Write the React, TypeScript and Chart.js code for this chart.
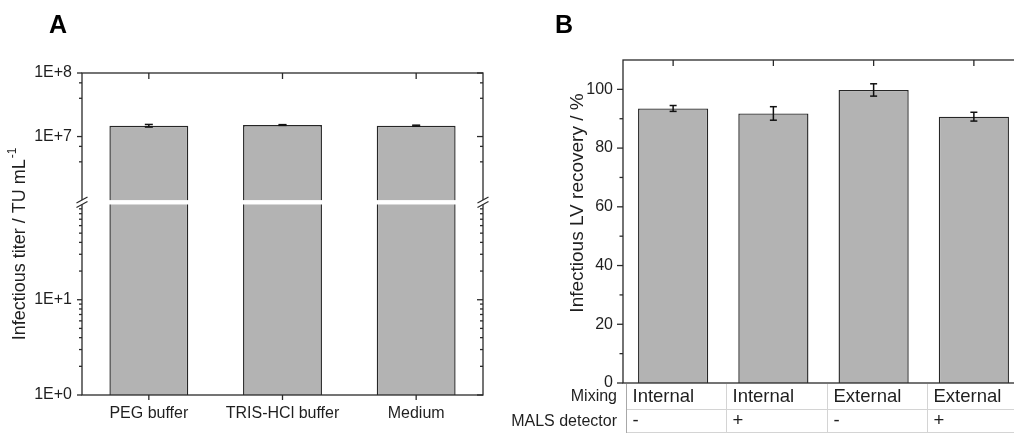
import React, { useEffect, useRef } from 'react';
import { Chart, registerables } from 'chart.js';

Chart.register(...registerables);

const FONT = "'Liberation Sans', Arial, Helvetica, sans-serif";
const INK = '#1f1f1f';
const FRAME = '#2a2a2a';
const BAR_FILL = '#b3b3b3';
const BAR_EDGE = '#262626';
const GRID_LIGHT = '#d4d4d4';

// ---------- Panel A : infectious titer (broken log axis) ----------
const titerCategories = ['PEG buffer', 'TRIS-HCl buffer', 'Medium'];
const titerValues = [1.48e7, 1.52e7, 1.48e7];
const titerErrors = [0.07e7, 0.02e7, 0.03e7];
const titerUpperRange = [10 ** 5.97, 1e8];
const titerLowerRange = [1, 10 ** 2.026];
const titerBreak = [1e6, 1e2];
const titerUpperMajor = [1e7, 1e8];
const titerUpperMinor = [4e6, 7e6, 4e7, 7e7];
const titerLowerMajor = [1, 10];
const titerLowerMinor = [2, 3, 4, 5, 6, 7, 8, 9, 20, 30, 40, 50, 60, 70, 80, 90];
const titerTickValues = [1e8, 1e7, 10, 1];
const titerTickLabels = ['1E+8', '1E+7', '1E+1', '1E+0'];

// ---------- Panel B : infectious LV recovery ----------
const recoveryCategories = ['Internal / -', 'Internal / +', 'External / -', 'External / +'];
const mixingRow = ['Internal', 'Internal', 'External', 'External'];
const malsRow = ['-', '+', '-', '+'];
const recoveryValues = [93.5, 91.8, 99.8, 90.7];
const recoveryErrors = [1.0, 2.3, 2.1, 1.5];
const recoveryRange = [0, 110];
const recoveryMajor = [0, 20, 40, 60, 80, 100];
const recoveryMinor = [10, 30, 50, 70, 90];

function seg(ctx: CanvasRenderingContext2D, x1: number, y1: number, x2: number, y2: number) {
  ctx.beginPath();
  ctx.moveTo(x1, y1);
  ctx.lineTo(x2, y2);
  ctx.stroke();
}

function errorBars(ctx: CanvasRenderingContext2D, xs: any, ys: any, vals: number[], errs: number[], cap: number) {
  ctx.save();
  ctx.strokeStyle = '#111';
  ctx.lineWidth = 1.5;
  vals.forEach((v, i) => {
    const px = xs.getPixelForValue(i);
    const top = ys.getPixelForValue(v + errs[i]);
    const bot = ys.getPixelForValue(v - errs[i]);
    seg(ctx, px, top, px, bot);
    seg(ctx, px - cap, top, px + cap, top);
    seg(ctx, px - cap, bot, px + cap, bot);
  });
  ctx.restore();
}

const titerDecor = {
  id: 'titerDecor',
  afterDraw(chart: any) {
    const { ctx, chartArea: a, scales } = chart;
    const xs = scales.x, yu = scales.yUpper, yl = scales.yLower;
    errorBars(ctx, xs, yu, titerValues, titerErrors, 4);
    ctx.save();
    ctx.strokeStyle = FRAME;
    ctx.lineWidth = 1.3;
    ctx.strokeRect(a.left, a.top, a.right - a.left, a.bottom - a.top);
    const yTick = (scale: any, vals: number[], outLen: number, inLen: number) => {
      vals.forEach((v) => {
        const py = scale.getPixelForValue(v);
        seg(ctx, a.left, py, a.left - outLen, py);
        seg(ctx, a.right, py, a.right - inLen, py);
      });
    };
    yTick(yu, titerUpperMajor, 5, 6);
    yTick(yu, titerUpperMinor, 3, 3);
    yTick(yl, titerLowerMajor, 5, 6);
    yTick(yl, titerLowerMinor, 3, 3);
    titerCategories.forEach((_, i) => {
      const px = xs.getPixelForValue(i);
      seg(ctx, px, a.top, px, a.top + 6);
      seg(ctx, px, a.bottom, px, a.bottom + 5);
    });
    // axis break
    const gTop = yu.getPixelForValue(titerBreak[0]);
    const gBot = yl.getPixelForValue(titerBreak[1]);
    ctx.fillStyle = '#fff';
    ctx.fillRect(a.left - 4, gTop, a.right - a.left + 8, gBot - gTop);
    ctx.lineWidth = 1.2;
    [a.left, a.right].forEach((x0) => {
      [gTop, gBot].forEach((y0) => seg(ctx, x0 - 5.5, y0 + 3, x0 + 5.5, y0 - 3));
    });
    // texts
    ctx.fillStyle = '#000';
    ctx.font = `bold 25px ${FONT}`;
    ctx.textAlign = 'left';
    ctx.textBaseline = 'alphabetic';
    ctx.fillText('A', 49, 33);
    ctx.fillStyle = INK;
    ctx.translate(20, 244);
    ctx.rotate(-Math.PI / 2);
    ctx.font = `18px ${FONT}`;
    const main = 'Infectious titer / TU mL';
    const mw = ctx.measureText(main).width;
    ctx.font = `12px ${FONT}`;
    const sw = ctx.measureText('-1').width;
    const x0 = -(mw + sw + 1) / 2;
    ctx.textBaseline = 'middle';
    ctx.font = `18px ${FONT}`;
    ctx.fillText(main, x0, 0);
    ctx.font = `12px ${FONT}`;
    ctx.fillText('-1', x0 + mw + 1, -7);
    ctx.restore();
  },
};

const recoveryDecor = {
  id: 'recoveryDecor',
  afterDraw(chart: any) {
    const { ctx, chartArea: a, scales, width } = chart;
    const xs = scales.x, ys = scales.y;
    errorBars(ctx, xs, ys, recoveryValues, recoveryErrors, 3.5);
    ctx.save();
    ctx.strokeStyle = FRAME;
    ctx.lineWidth = 1.3;
    ctx.strokeRect(a.left, a.top, a.right - a.left, a.bottom - a.top);
    recoveryMajor.forEach((v) => {
      const py = ys.getPixelForValue(v);
      seg(ctx, a.left, py, a.left - 6, py);
    });
    recoveryMinor.forEach((v) => {
      const py = ys.getPixelForValue(v);
      seg(ctx, a.left, py, a.left - 3.5, py);
    });
    recoveryCategories.forEach((_, i) => {
      const px = xs.getPixelForValue(i);
      seg(ctx, px, a.top, px, a.top + 6);
    });
    // condition table under the axis
    const cat = xs.getPixelForValue(1) - xs.getPixelForValue(0);
    const r0 = a.bottom, r1 = a.bottom + 26, r2 = a.bottom + 50;
    ctx.lineWidth = 1;
    ctx.strokeStyle = GRID_LIGHT;
    const firstEdge = xs.getPixelForValue(0) - cat / 2 + 3;
    seg(ctx, firstEdge, r1 + 0.5, width, r1 + 0.5);
    seg(ctx, firstEdge, r2 - 0.5, width, r2 - 0.5);
    recoveryCategories.forEach((_, i) => {
      const ex = Math.round(xs.getPixelForValue(i) - cat / 2 + 3) + 0.5;
      ctx.strokeStyle = i === 0 ? '#a8a8a8' : GRID_LIGHT;
      seg(ctx, ex, r0 + 1, ex, r2);
      ctx.fillStyle = INK;
      ctx.textAlign = 'left';
      ctx.textBaseline = 'alphabetic';
      ctx.font = `18.5px ${FONT}`;
      ctx.fillText(mixingRow[i], ex + 6, r0 + 19);
      ctx.fillText(malsRow[i], ex + 6, r0 + 43);
    });
    ctx.fillStyle = INK;
    ctx.font = `16px ${FONT}`;
    ctx.textAlign = 'right';
    ctx.fillText('Mixing', a.left - 6, r0 + 18);
    ctx.fillText('MALS detector', a.left - 6, r0 + 43);
    // texts
    ctx.fillStyle = '#000';
    ctx.font = `bold 25px ${FONT}`;
    ctx.textAlign = 'left';
    ctx.fillText('B', 55, 33);
    ctx.fillStyle = INK;
    ctx.translate(78, 203);
    ctx.rotate(-Math.PI / 2);
    ctx.font = `19px ${FONT}`;
    ctx.textAlign = 'center';
    ctx.textBaseline = 'middle';
    ctx.fillText('Infectious LV recovery / %', 0, 0);
    ctx.restore();
  },
};

const hidden = { display: false, drawTicks: false, drawOnChartArea: false };
const noBorder = { display: false };
const tickFont = { family: FONT, size: 16 };

function titerConfig(): any {
  const lowerMax = titerLowerRange[1];
  return {
    type: 'bar',
    data: {
      labels: titerCategories,
      datasets: [
        {
          data: titerValues,
          yAxisID: 'yUpper',
          backgroundColor: BAR_FILL,
          borderColor: BAR_EDGE,
          borderWidth: { top: 1.4, left: 1.4, right: 1.4, bottom: 0 },
          grouped: false,
          barPercentage: 0.59,
          categoryPercentage: 1,
        },
        {
          data: titerValues.map((v) => Math.min(v, lowerMax)),
          yAxisID: 'yLower',
          backgroundColor: BAR_FILL,
          borderColor: BAR_EDGE,
          borderWidth: { top: 0, left: 1.4, right: 1.4, bottom: 0 },
          grouped: false,
          barPercentage: 0.59,
          categoryPercentage: 1,
        },
      ],
    },
    options: {
      animation: false,
      responsive: false,
      events: [],
      layout: { padding: { left: 0, right: 17, top: 73, bottom: 9 } },
      plugins: { legend: { display: false }, tooltip: { enabled: false } },
      scales: {
        x: {
          grid: hidden,
          border: noBorder,
          ticks: { font: tickFont, color: INK, padding: 9 },
          afterFit: (s: any) => { s.height = 30; },
        },
        yUpper: {
          type: 'logarithmic',
          position: 'left',
          stack: 'titer',
          stackWeight: 129,
          weight: 1,
          min: titerUpperRange[0],
          max: titerUpperRange[1],
          grid: hidden,
          border: noBorder,
          afterBuildTicks: (s: any) => { s.ticks = titerUpperMajor.map((value) => ({ value })); },
          ticks: {
            font: tickFont,
            color: INK,
            padding: 10,
            callback: (v: number) => { const k = titerTickValues.indexOf(v); return k >= 0 ? titerTickLabels[k] : ''; },
          },
          afterFit: (s: any) => { s.width = 82; },
        },
        yLower: {
          type: 'logarithmic',
          position: 'left',
          stack: 'titer',
          stackWeight: 193,
          weight: 0,
          min: titerLowerRange[0],
          max: titerLowerRange[1],
          grid: hidden,
          border: noBorder,
          afterBuildTicks: (s: any) => { s.ticks = titerLowerMajor.map((value) => ({ value })); },
          ticks: {
            font: tickFont,
            color: INK,
            padding: 10,
            callback: (v: number) => { const k = titerTickValues.indexOf(v); return k >= 0 ? titerTickLabels[k] : ''; },
          },
          afterFit: (s: any) => { s.width = 82; },
        },
      },
    },
    plugins: [titerDecor],
  };
}

function recoveryConfig(): any {
  return {
    type: 'bar',
    data: {
      labels: recoveryCategories,
      datasets: [
        {
          data: recoveryValues,
          backgroundColor: BAR_FILL,
          borderColor: BAR_EDGE,
          borderWidth: { top: 1.4, left: 1.4, right: 1.4, bottom: 0 },
          barPercentage: 0.7,
          categoryPercentage: 1,
        },
      ],
    },
    options: {
      animation: false,
      responsive: false,
      events: [],
      layout: { padding: { left: 0, right: 16, top: 60, bottom: 0 } },
      plugins: { legend: { display: false }, tooltip: { enabled: false } },
      scales: {
        x: {
          grid: hidden,
          border: noBorder,
          ticks: { display: false },
          afterFit: (s: any) => { s.height = 51; },
        },
        y: {
          type: 'linear',
          min: recoveryRange[0],
          max: recoveryRange[1],
          grid: hidden,
          border: noBorder,
          afterBuildTicks: (s: any) => { s.ticks = recoveryMajor.map((value) => ({ value })); },
          ticks: { font: tickFont, color: INK, padding: 10, callback: (v: number) => String(v) },
          afterFit: (s: any) => { s.width = 123; },
        },
      },
    },
    plugins: [recoveryDecor],
  };
}

export default function App() {
  const aRef = useRef<HTMLCanvasElement>(null);
  const bRef = useRef<HTMLCanvasElement>(null);
  useEffect(() => {
    const ca = new Chart(aRef.current as HTMLCanvasElement, titerConfig());
    const cb = new Chart(bRef.current as HTMLCanvasElement, recoveryConfig());
    return () => {
      ca.destroy();
      cb.destroy();
    };
  }, []);
  return (
    <div style={{ position: 'fixed', left: 0, top: 0, width: 1014, height: 434, overflow: 'hidden', background: '#fff' }}>
      <canvas ref={aRef} width={500} height={434} style={{ position: 'absolute', left: 0, top: 0, width: 500, height: 434 }} />
      <canvas ref={bRef} width={540} height={434} style={{ position: 'absolute', left: 500, top: 0, width: 540, height: 434 }} />
    </div>
  );
}
